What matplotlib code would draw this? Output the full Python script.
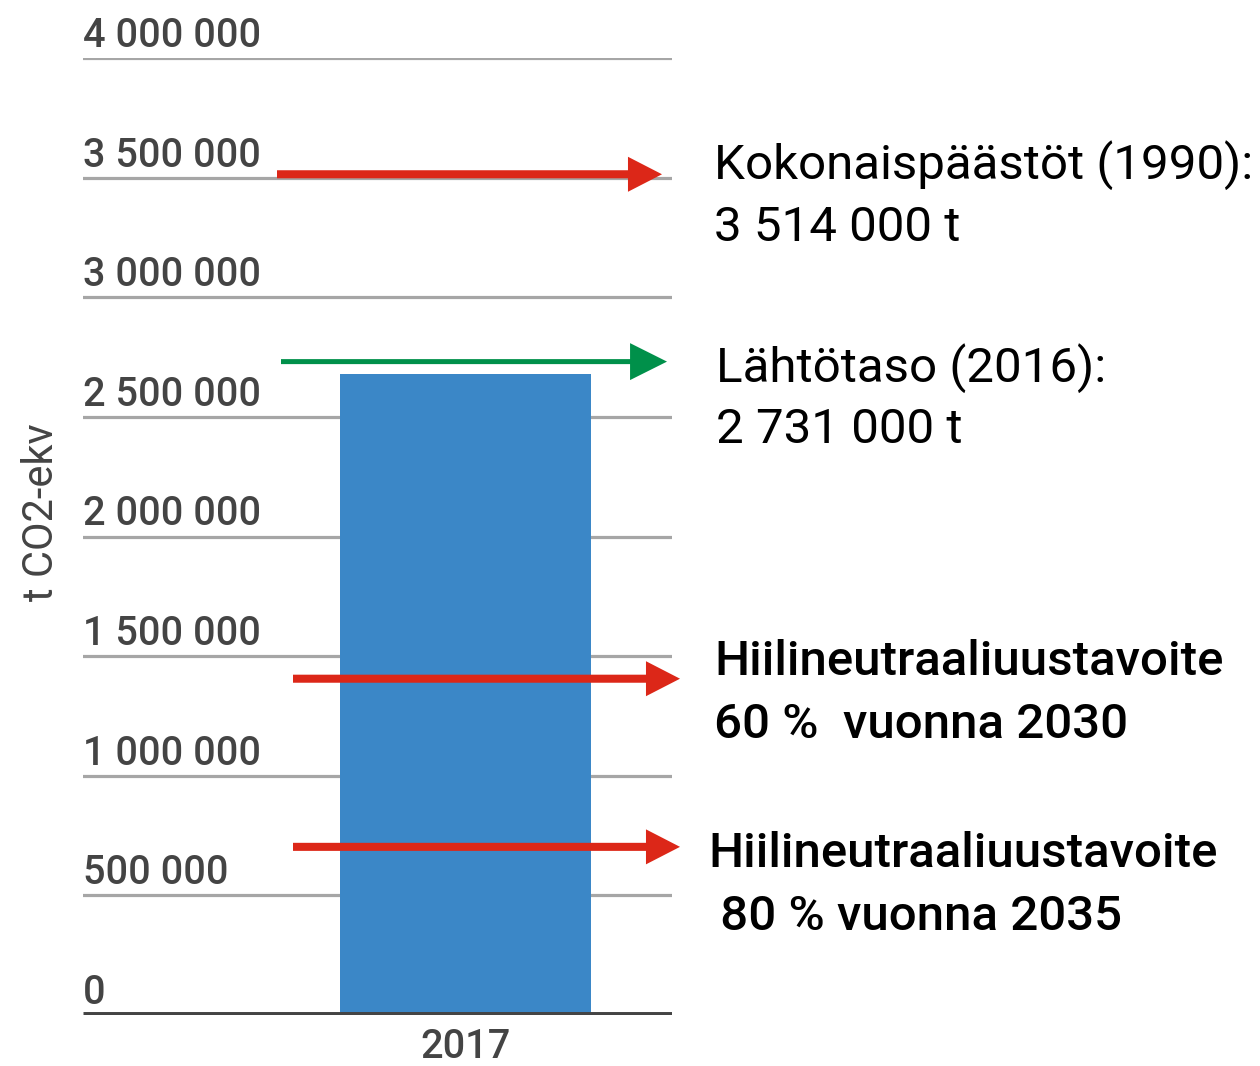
import matplotlib
matplotlib.use("Agg")
import matplotlib.pyplot as plt
import matplotlib.transforms as mtransforms

plt.rcParams['font.family'] = ['Roboto', 'DejaVu Sans']

# Data
categories = ["2017"]
values = [2680000]
yticks = [0, 500000, 1000000, 1500000, 2000000, 2500000, 3000000, 3500000, 4000000]
ytick_labels = ["0", "500 000", "1 000 000", "1 500 000", "2 000 000",
                "2 500 000", "3 000 000", "3 500 000", "4 000 000"]
arrow_levels = [3514000, 2731000, 1405600, 702800]
arrow_colors = ["#dc2718", "#00904a", "#dc2718", "#dc2718"]
annotations = [
    ("Kokonaispäästöt (1990):", "3 514 000 t"),
    ("Lähtötaso (2016):", "2 731 000 t"),
    ("Hiilineutraaliuustavoite", "60 %  vuonna 2030"),
    ("Hiilineutraaliuustavoite", " 80 % vuonna 2035"),
]
ylabel = "t CO2-ekv"

W, H = 1260, 1066
fig = plt.figure(figsize=(W / 100, H / 100), dpi=100)
ax = fig.add_axes([83 / W, 1 - 1015 / H, 589 / W, 957 / H])

ax.set_xlim(-0.65, 0.35)
ax.set_ylim(0, 4000000)

# grid lines
for t in yticks[1:]:
    ax.axhline(t, color="#a6a6a6", lw=2.3, zorder=1)
ax.bar(range(len(categories)), values, width=0.426, color="#3b87c7", zorder=2)
ax.axhline(0, color="#444444", lw=5, zorder=3, solid_capstyle="butt")

for s in ax.spines.values():
    s.set_visible(False)
ax.set_yticks([])
ax.set_xticks(range(len(categories)))
ax.set_xticklabels(categories, fontsize=28.5, color="#444444", fontweight="medium")
ax.tick_params(axis="x", length=0, pad=9)

trans = mtransforms.blended_transform_factory(ax.transAxes, ax.transData)
for t, lab in zip(yticks, ytick_labels):
    ax.annotate(lab, xy=(0, t), xycoords=trans, xytext=(0, 8),
                textcoords="offset points", ha="left", va="baseline",
                fontsize=28.5, color="#444444", fontweight="medium")

fig.text(42 / W, 1 - 512 / H, ylabel, rotation=90, ha="center", va="center",
         fontsize=30, color="#444444")

# arrows
arrow_x = [(277, 662), (281, 667), (293, 680), (293, 680)]
tail_w = [8, 5, 8, 8]
head_w = [35, 37, 35, 35]
head_l = [34, 37, 34, 34]
for lvl, col, (x0, x1), tw, hw, hl in zip(arrow_levels, arrow_colors, arrow_x,
                                          tail_w, head_w, head_l):
    ax.annotate("", xy=((x1 - 83) / 589, lvl), xycoords=trans,
                xytext=((x0 - 83) / 589, lvl), textcoords=trans,
                arrowprops=dict(arrowstyle="simple,head_length=%.1f,head_width=%.1f,tail_width=%.1f"
                                % (hl * 0.72, hw * 0.72, tw * 0.72),
                                mutation_scale=1, color=col, shrinkA=0, shrinkB=0, lw=0),
                annotation_clip=False, zorder=5)

# annotation texts (pixel positions of line centres)
text_pos = [(714, 165, 228), (716, 368, 430), (714, 662, 725), (708, 854, 917)]
weights = ["normal", "normal", "medium", "medium"]
for (l1, l2), (x, y1, y2), w in zip(annotations, text_pos, weights):
    fig.text(x / W, 1 - y1 / H, l1, ha="left", va="center", fontsize=35.5,
             color="black", fontweight=w)
    fig.text(x / W, 1 - y2 / H, l2, ha="left", va="center", fontsize=35.5,
             color="black", fontweight=w)

fig.savefig("out.png", dpi=100)
